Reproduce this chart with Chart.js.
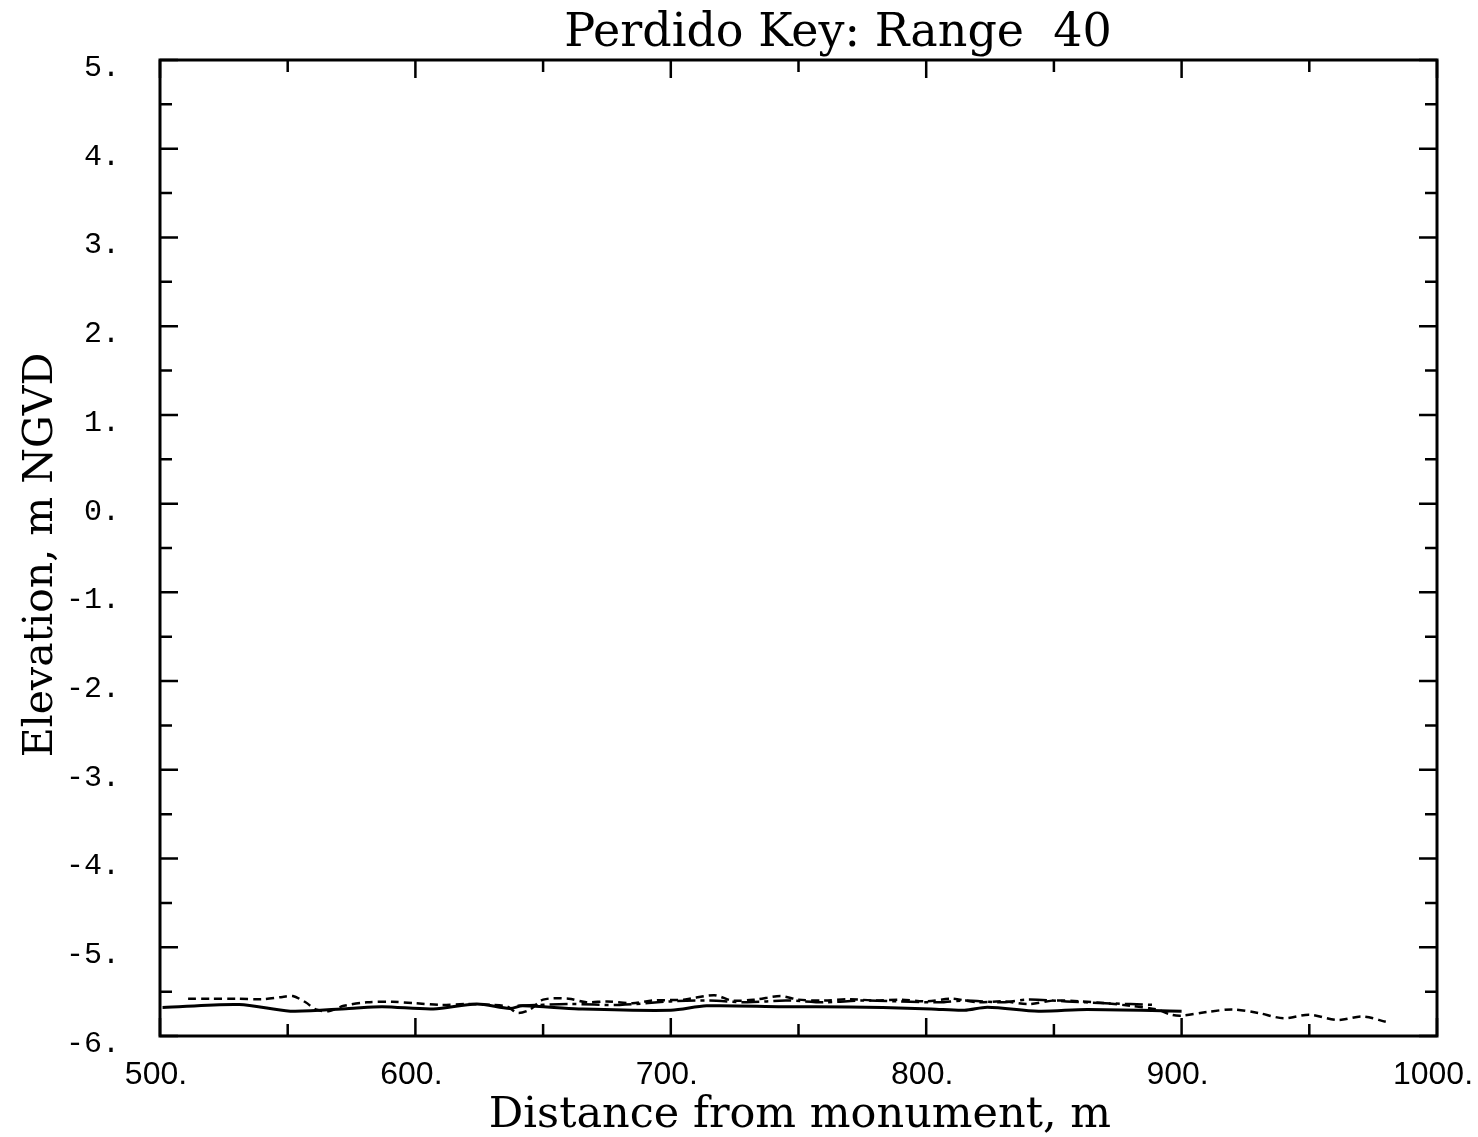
<!DOCTYPE html>
<html>
<head>
<meta charset="utf-8">
<script src="https://cdn.jsdelivr.net/npm/chart.js@4.4.1/dist/chart.umd.min.js"></script>
<style>
  html, body { margin: 0; padding: 0; background: #fff; }
  #wrap { width: 1478px; height: 1137px; }
</style>
</head>
<body>
<div id="wrap"><canvas id="profile"></canvas></div>
<script>
// survey profiles
const solidDist = [501, 531, 551, 574, 587, 607, 624, 637, 642, 664, 700, 714, 744, 757, 783, 802, 815, 824, 844, 863, 900]
const solidElev = [-5.68, -5.645, -5.72, -5.69, -5.67, -5.695, -5.64, -5.69, -5.66, -5.695, -5.71, -5.66, -5.67, -5.67, -5.68, -5.695, -5.71, -5.675, -5.72, -5.70, -5.72]

const dashDist = [511, 520, 530, 540, 548, 552, 557, 561, 566, 572, 581, 591, 600, 610, 620, 630, 636, 640, 645, 650, 660, 667, 675, 685, 693, 705, 717, 724, 733, 743, 750, 760, 770, 780, 790, 800, 810, 820, 830, 840, 850, 860, 870, 880, 890, 896, 900, 910, 920, 930, 940, 950, 961, 971, 980]
const dashElev = [-5.58, -5.58, -5.58, -5.585, -5.56, -5.55, -5.62, -5.70, -5.72, -5.66, -5.62, -5.615, -5.63, -5.65, -5.64, -5.65, -5.67, -5.74, -5.70, -5.59, -5.58, -5.62, -5.61, -5.63, -5.60, -5.59, -5.54, -5.60, -5.59, -5.55, -5.59, -5.60, -5.585, -5.60, -5.59, -5.61, -5.58, -5.62, -5.61, -5.64, -5.60, -5.61, -5.63, -5.66, -5.70, -5.76, -5.77, -5.73, -5.70, -5.74, -5.80, -5.76, -5.82, -5.78, -5.84]

const longDist = [640, 660, 680, 700, 715, 730, 745, 760, 775, 790, 805, 815, 830, 840, 855, 870, 890]
const longElev = [-5.66, -5.64, -5.65, -5.61, -5.60, -5.62, -5.60, -5.62, -5.60, -5.61, -5.62, -5.60, -5.62, -5.59, -5.61, -5.63, -5.65]

const xTicks = [500, 600, 700, 800, 900, 1000]
const yTicks = [5, 4, 3, 2, 1, 0, -1, -2, -3, -4, -5, -6]

const pts = (xs, ys) => xs.map((x, i) => ({ x: x, y: ys[i] }))

// box, inward ticks and the texts
const frame = {
  id: 'frame',
  afterDraw(chart) {
    const ctx = chart.ctx
    const a = chart.chartArea
    const xs = chart.scales.x, ys = chart.scales.y
    ctx.save()
    ctx.strokeStyle = '#000'
    ctx.lineWidth = 3
    ctx.strokeRect(a.left, a.top, a.right - a.left, a.bottom - a.top)
    ctx.lineWidth = 2.5
    ctx.beginPath()
    for (let v = 500; v <= 1000; v += 50) {
      const px = xs.getPixelForValue(v)
      const len = v % 100 === 0 ? 18 : 12
      ctx.moveTo(px, a.bottom); ctx.lineTo(px, a.bottom - len)
      ctx.moveTo(px, a.top); ctx.lineTo(px, a.top + len)
    }
    for (let v = -6; v <= 5; v += 0.5) {
      const py = ys.getPixelForValue(v)
      const len = Number.isInteger(v) ? 18 : 12
      ctx.moveTo(a.left, py); ctx.lineTo(a.left + len, py)
      ctx.moveTo(a.right, py); ctx.lineTo(a.right - len, py)
    }
    ctx.stroke()

    ctx.fillStyle = '#000'
    ctx.font = '46px "DejaVu Serif"'
    ctx.textAlign = 'center'
    ctx.textBaseline = 'alphabetic'
    ctx.fillText('Perdido Key: Range  40', 838, 46)
    ctx.font = '43px "DejaVu Serif"'
    ctx.fillText('Distance from monument, m', 800, 1127)
    ctx.font = '41px "DejaVu Serif"'
    ctx.translate(52, 555)
    ctx.rotate(-Math.PI / 2)
    ctx.fillText('Elevation, m NGVD', 0, 0)
    ctx.restore()
  }
}

new Chart(document.getElementById('profile'), {
  type: 'scatter',
  data: {
    datasets: [
      {
        label: 'solid',
        data: pts(solidDist, solidElev),
        showLine: true,
        borderColor: '#000',
        borderWidth: 3,
        pointRadius: 0,
        tension: 0.3
      },
      {
        label: 'dashed',
        data: pts(dashDist, dashElev),
        showLine: true,
        borderColor: '#000',
        borderWidth: 2.5,
        borderDash: [8, 5],
        pointRadius: 0,
        tension: 0.3
      },
      {
        label: 'long dash',
        data: pts(longDist, longElev),
        showLine: true,
        borderColor: '#000',
        borderWidth: 2.5,
        borderDash: [18, 5, 4, 5],
        pointRadius: 0,
        tension: 0.3
      }
    ]
  },
  options: {
    responsive: true,
    maintainAspectRatio: false,
    animation: false,
    layout: { padding: { left: 0, right: 41, top: 60, bottom: 0 } },
    plugins: {
      legend: { display: false },
      title: { display: false },
      tooltip: { enabled: false }
    },
    scales: {
      x: {
        type: 'linear',
        min: 500,
        max: 1000,
        afterFit: s => { s.height = 101; s.paddingLeft = 0; s.paddingRight = 0 },
        afterBuildTicks: s => { s.ticks = xTicks.map(v => ({ value: v })) },
        grid: { display: false, drawTicks: false },
        border: { display: false },
        ticks: {
          padding: 20,
          labelOffset: -4,
          color: '#000',
          font: { family: '"Liberation Sans"', size: 32 },
          callback: v => v + '.'
        }
      },
      y: {
        type: 'linear',
        min: -6,
        max: 5,
        afterFit: s => { s.width = 160; s.paddingTop = 0; s.paddingBottom = 0 },
        afterBuildTicks: s => { s.ticks = yTicks.map(v => ({ value: v })) },
        grid: { display: false, drawTicks: false },
        border: { display: false },
        ticks: {
          padding: 40,
          labelOffset: 8,
          color: '#000',
          font: { family: '"Liberation Mono"', size: 30 },
          callback: v => v + '.'
        }
      }
    }
  },
  plugins: [frame]
})
</script>
</body>
</html>
